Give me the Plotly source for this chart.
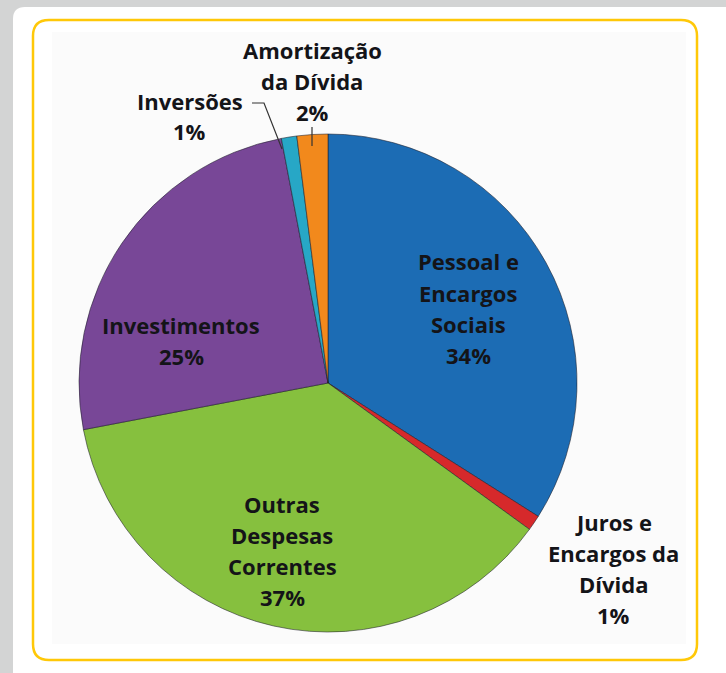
import plotly.graph_objects as go

# slices, clockwise from 12 o'clock
categories = ["Pessoal e Encargos Sociais", "Juros e Encargos da Dívida",
              "Outras Despesas Correntes", "Investimentos", "Inversões",
              "Amortização da Dívida"]
values = [34, 1, 37, 25, 1, 2]
colors = ["#1c6cb4", "#d6292b", "#86c03e", "#784797", "#27a7c6", "#f2891c"]

# label lines as printed on the chart
label_lines = [
    ["Pessoal e", "Encargos", "Sociais", "34%"],
    ["Juros e", "Encargos da", "Dívida", "1%"],
    ["Outras", "Despesas", "Correntes", "37%"],
    ["Investimentos", "25%"],
    ["Inversões", "1%"],
    ["Amortização", "da Dívida", "2%"],
]

W, H = 726, 673


def px(x):
    return x / W


def py(y):
    return 1 - y / H


def rounded_rect(x0, y0, x1, y1, r):
    # path in paper coords from pixel box
    p = [f"M {px(x0 + r)} {py(y0)}",
         f"L {px(x1 - r)} {py(y0)}",
         f"Q {px(x1)} {py(y0)} {px(x1)} {py(y0 + r)}",
         f"L {px(x1)} {py(y1 - r)}",
         f"Q {px(x1)} {py(y1)} {px(x1 - r)} {py(y1)}",
         f"L {px(x0 + r)} {py(y1)}",
         f"Q {px(x0)} {py(y1)} {px(x0)} {py(y1 - r)}",
         f"L {px(x0)} {py(y0 + r)}",
         f"Q {px(x0)} {py(y0)} {px(x0 + r)} {py(y0)} Z"]
    return " ".join(p)


cx, cy, R = 328, 383, 249

fig = go.Figure(go.Pie(
    labels=categories,
    values=values,
    sort=False,
    direction="clockwise",
    rotation=0,
    textinfo="none",
    hoverinfo="label+percent",
    marker=dict(colors=colors, line=dict(color="rgba(30,30,40,0.55)", width=1)),
    domain=dict(x=[px(cx - R), px(cx + R)], y=[py(cy + R), py(cy - R)]),
    showlegend=False,
))

# label centres (pixels) for each slice
label_pos = [(468, 308), (613, 568), (282, 550), (181, 340), (190, 116), (312, 81)]
line_gap = 31

annotations = []
for lines, (lx, ly) in zip(label_lines, label_pos):
    n = len(lines)
    for i, t in enumerate(lines):
        yy = ly + (i - (n - 1) / 2) * line_gap
        annotations.append(dict(
            x=px(lx), y=py(yy), xref="paper", yref="paper",
            text=t, showarrow=False, xanchor="center", yanchor="middle",
            font=dict(family="Open Sans", size=22, color="#141418", weight="bold"),
        ))

shapes = [
    # white card
    dict(type="path", path=rounded_rect(13, 7, 760, 700, 12),
         fillcolor="#ffffff", line=dict(width=0), layer="below"),
    # chart image area
    dict(type="rect", x0=px(52), x1=px(686), y0=py(644), y1=py(32),
         fillcolor="#fbfbfb", line=dict(width=0), layer="below"),
    # yellow frame
    dict(type="path", path=rounded_rect(33, 20, 697, 660, 16),
         fillcolor="rgba(0,0,0,0)", line=dict(color="#ffc808", width=2.5),
         layer="below"),
    # leader lines
    dict(type="path", path=f"M {px(252)} {py(103)} L {px(264)} {py(103)} L {px(282)} {py(149)}",
         line=dict(color="#333333", width=1.2)),
    dict(type="line", x0=px(312), x1=px(312), y0=py(127), y1=py(146),
         line=dict(color="#333333", width=1.2)),
]

fig.update_layout(
    width=W, height=H,
    margin=dict(l=0, r=0, t=0, b=0),
    paper_bgcolor="#d3d4d4",
    plot_bgcolor="#d3d4d4",
    shapes=shapes,
    annotations=annotations,
)

fig.write_html("out.html", config={"displayModeBar": False},
               post_script="document.body.style.margin='0';")
